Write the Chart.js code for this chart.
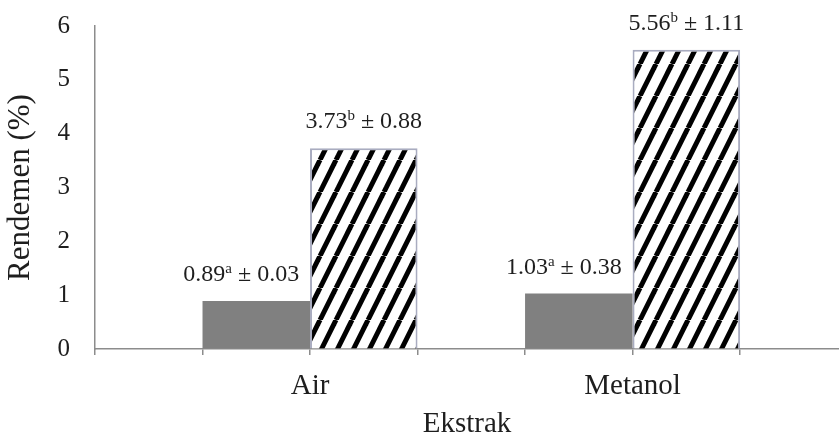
<!DOCTYPE html>
<html>
<head>
<meta charset="utf-8">
<script src="https://cdn.jsdelivr.net/npm/chart.js@4"></script>
<style>
  html, body { margin: 0; padding: 0; background: #fff; overflow: hidden; }
</style>
</head>
<body>
<canvas id="chart" width="839" height="441"></canvas>
<script>
const categories = ['Air', 'Metanol'];
const seriesGray = [0.89, 1.03];
const seriesHatch = [3.73, 5.56];
const sdGray = [0.03, 0.38];
const sdHatch = [0.88, 1.11];
const letterGray = ['a', 'a'];
const letterHatch = ['b', 'b'];
const yTicks = [0, 1, 2, 3, 4, 5, 6];

const FONT = '"Liberation Serif", "Times New Roman", serif';
const AXIS = '#8c8c8c';
const TEXT = '#1e1e1e';

// diagonal black stripes for the second series
function hatchPattern() {
  const c = document.createElement('canvas');
  c.width = 16; c.height = 32;
  const g = c.getContext('2d');
  g.fillStyle = '#fff';
  g.fillRect(0, 0, 16, 32);
  g.strokeStyle = '#000';
  g.lineWidth = 5;
  for (let x0 = -32; x0 <= 32; x0 += 16) {
    g.beginPath();
    g.moveTo(x0, 32);
    g.lineTo(x0 + 16, 0);
    g.stroke();
  }
  return g.createPattern(c, 'repeat');
}

// "0.89ª ± 0.03" style labels over the bars
const valueLabels = {
  id: 'valueLabels',
  afterDatasetsDraw(chart) {
    const ctx = chart.ctx;
    const sets = [
      [seriesGray, letterGray, sdGray, -15],
      [seriesHatch, letterHatch, sdHatch, 0]
    ];
    chart.data.datasets.forEach((ds, di) => {
      const meta = chart.getDatasetMeta(di);
      const [vals, letters, sds, nudge] = sets[di];
      meta.data.forEach((bar, i) => {
        const main = vals[i].toFixed(2);
        const sup = letters[i];
        const rest = ' \u00b1 ' + sds[i].toFixed(2);
        ctx.save();
        ctx.fillStyle = TEXT;
        ctx.textBaseline = 'alphabetic';
        ctx.textAlign = 'left';
        ctx.font = '24px ' + FONT;
        const wMain = ctx.measureText(main).width;
        const wRest = ctx.measureText(rest).width;
        ctx.font = '15px ' + FONT;
        const wSup = ctx.measureText(sup).width;
        const total = wMain + wSup + wRest;
        let x = bar.x - total / 2 + nudge;
        const y = bar.y - 20;
        ctx.font = '24px ' + FONT;
        ctx.fillText(main, x, y);
        x += wMain;
        ctx.font = '15px ' + FONT;
        ctx.fillText(sup, x, y - 8);
        x += wSup;
        ctx.font = '24px ' + FONT;
        ctx.fillText(rest, x, y);
        ctx.restore();
      });
    });
  }
};

const ctx = document.getElementById('chart').getContext('2d');
new Chart(ctx, {
  type: 'bar',
  data: {
    datasets: [
      {
        data: seriesGray.map((v, i) => ({ x: i, y: v })),
        backgroundColor: '#808080',
        borderWidth: 0
      },
      {
        data: seriesHatch.map((v, i) => ({ x: i, y: v })),
        backgroundColor: hatchPattern(),
        borderColor: '#a9acc0',
        borderWidth: 2
      }
    ]
  },
  options: {
    responsive: false,
    animation: false,
    devicePixelRatio: 1,
    barPercentage: 1,
    categoryPercentage: 2,
    layout: { padding: { top: 26, left: 0, right: 0, bottom: 0 } },
    plugins: {
      legend: { display: false },
      tooltip: { enabled: false }
    },
    scales: {
      x: {
        type: 'linear',
        offset: false,
        min: -2 / 3,
        max: 1.64,
        afterBuildTicks: s => {
          const t = [];
          for (let k = 0; k < 20; k++) {
            const v = -2 / 3 + k / 3;
            if (v > s.max + 1e-9) break;
            t.push({ value: v });
          }
          s.ticks = t;
        },
        afterFit: s => { s.height = 92; },
        grid: { offset: false, drawOnChartArea: false, drawTicks: true, tickLength: 6, color: AXIS, lineWidth: 1.5 },
        border: { color: AXIS, width: 1.5 },
        ticks: {
          padding: 14,
          autoSkip: false,
          maxRotation: 0,
          color: TEXT,
          font: { family: FONT, size: 29 },
          callback: v => {
            const r = Math.round(v);
            return Math.abs(v - r) < 1e-6 && categories[r] ? categories[r] : '';
          }
        },
        title: {
          display: true,
          text: 'Ekstrak',
          color: TEXT,
          font: { family: FONT, size: 29, lineHeight: 1 },
          padding: { top: 0, bottom: 2 }
        }
      },
      y: {
        min: 0,
        max: 6,
        afterBuildTicks: s => { s.ticks = yTicks.map(v => ({ value: v })); },
        afterFit: s => { s.width = 95; s.paddingTop = 0; },
        grid: { drawOnChartArea: false, drawTicks: false },
        border: { color: AXIS, width: 1.5 },
        ticks: {
          padding: 25,
          color: TEXT,
          font: { family: FONT, size: 25 }
        },
        title: {
          display: true,
          text: 'Rendemen (%)',
          color: TEXT,
          font: { family: FONT, size: 31 },
          padding: { top: 2, bottom: 0 }
        }
      }
    }
  },
  plugins: [valueLabels]
});
</script>
</body>
</html>
